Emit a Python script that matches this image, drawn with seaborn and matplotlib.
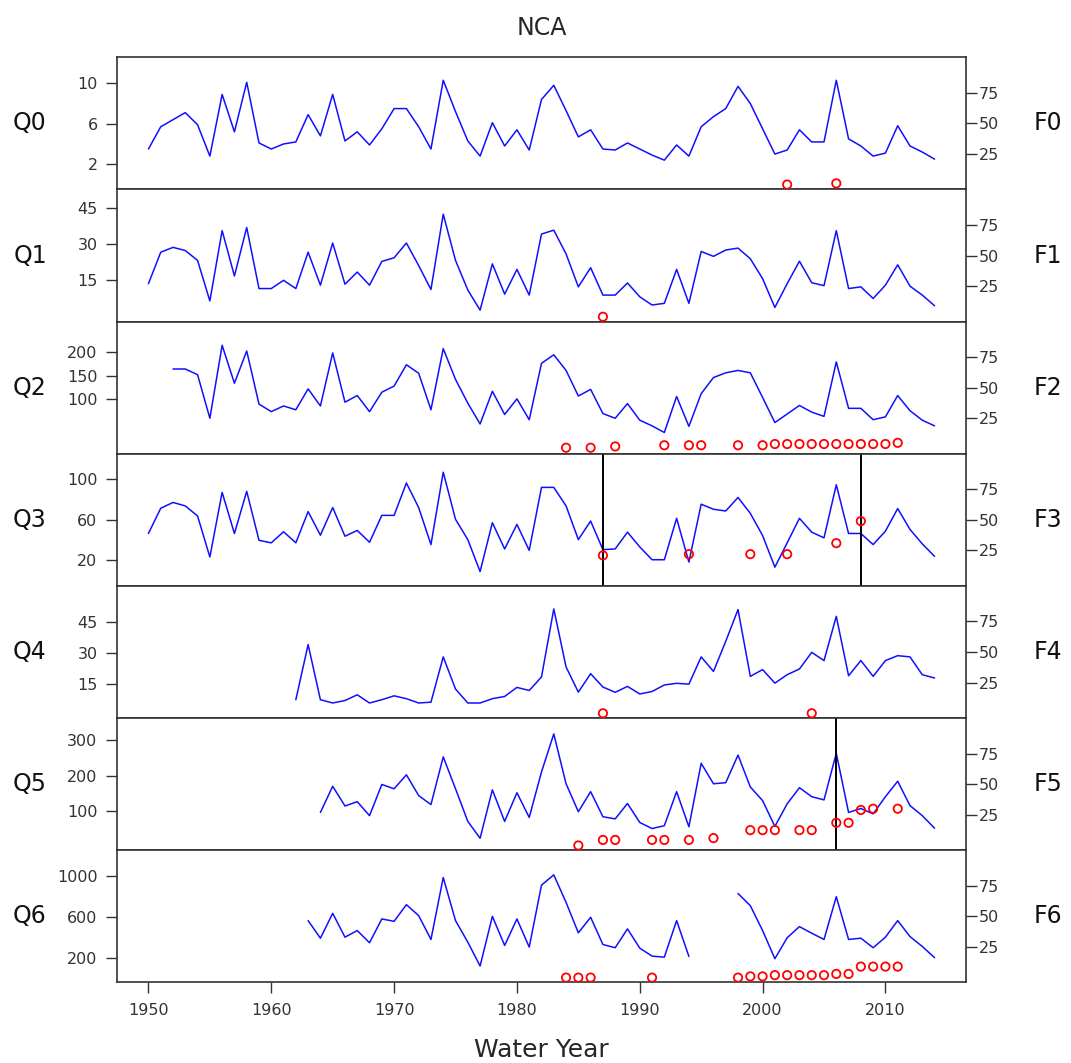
import numpy as np
import pandas as pd
import matplotlib
matplotlib.use("Agg")
import matplotlib.pyplot as plt
import seaborn as sns

# ---------------- data ----------------
q0 = [3.5, 5.7, 6.4, 7.1, 5.9, 2.8, 8.9, 5.2, 10.1, 4.1,
      3.5, 4.0, 4.2, 6.9, 4.8, 8.9, 4.3, 5.2, 3.9, 5.5,
      7.5, 7.5, 5.7, 3.5, 10.3, 7.2, 4.3, 2.8, 6.1, 3.8,
      5.4, 3.4, 8.4, 9.8, 7.3, 4.7, 5.4, 3.5, 3.4, 4.1,
      3.5, 2.9, 2.4, 3.9, 2.8, 5.7, 6.7, 7.5, 9.7, 8.0,
      5.5, 3.0, 3.4, 5.4, 4.2, 4.2, 10.3, 4.5, 3.8, 2.8,
      3.1, 5.8, 3.8, 3.2, 2.5]
q1 = [13.6, 26.6, 28.6, 27.3, 23.2, 6.5, 35.5, 16.8, 36.8, 11.6,
      11.6, 15.0, 11.6, 26.6, 13.0, 30.4, 13.4, 18.4, 13.0, 22.8,
      24.3, 30.4, 21.1, 11.2, 42.3, 23.2, 11.0, 2.7, 21.8, 9.3,
      19.5, 8.9, 34.1, 35.7, 25.9, 12.3, 20.2, 8.9, 8.9, 13.9,
      8.2, 4.8, 5.5, 19.5, 5.5, 26.9, 24.9, 27.5, 28.3, 23.9,
      15.7, 3.8, 13.6, 22.9, 14.0, 12.8, 35.5, 11.6, 12.3, 7.5,
      13.0, 21.4, 12.6, 8.9, 4.5]
q2_start = 1952
q2 = [164, 164, 152, 60, 214, 134, 202, 90,
      74, 86, 78, 122, 86, 198, 94, 108, 74, 115,
      128, 173, 155, 78, 207, 142, 92, 48, 117, 68,
      101, 57, 176, 194, 161, 107, 121, 70, 60, 91,
      56, 44, 30, 106, 43, 112, 146, 156, 161, 156,
      104, 51, 69, 87, 73, 64, 179, 81, 81, 57,
      63, 108, 76, 56, 44]
q3 = [46.5, 71.3, 77, 73.6, 63.7, 23.4, 86.9, 46.5, 87.9, 39.8,
      37.3, 48.2, 37.3, 68, 44.8, 72, 43.8, 49.5, 37.9, 64.3,
      64.3, 96.1, 72, 35.6, 106.7, 60.4, 40.5, 9.1, 57.1, 31.3,
      55.4, 29.9, 91.8, 91.8, 73.6, 40.5, 58.7, 30.6, 31.3, 47.8,
      33.3, 20.7, 20.7, 61.4, 18.4, 75.3, 70.3, 68.6, 81.9, 66.3,
      44.5, 13.4, 37.3, 61.4, 47.8, 42.2, 94.4, 46.5, 46.5, 35.6,
      48.8, 71, 50.5, 36.3, 24]
q4_start = 1962
q4 = [7.2, 34.1, 7.2, 5.6, 6.8, 9.6, 5.6, 7.2,
      9.1, 7.7, 5.6, 6.0, 28.1, 12.4, 5.6, 5.6, 7.7, 8.8,
      13.2, 11.7, 18.3, 51.5, 23.2, 10.9, 19.9, 13.4, 10.8, 13.7,
      10.0, 11.2, 14.4, 15.2, 14.8, 28.1, 21.0, 35.7, 51.2, 18.6,
      21.9, 15.3, 19.4, 22.2, 30.3, 26.3, 47.9, 18.9, 26.3, 18.6,
      26.3, 28.7, 28.1, 19.4, 17.8]
q5_start = 1964
q5 = [97, 170, 115, 127, 88, 175,
      163, 202, 144, 119, 252, 163, 72, 25, 160, 72,
      152, 83, 210, 316, 177, 99, 155, 85, 79, 122,
      69, 52, 60, 155, 57, 234, 177, 180, 257, 168,
      130, 58, 121, 166, 141, 132, 262, 97, 108, 93,
      141, 184, 116, 88, 53]
q6_start = 1963
q6 = [565, 395, 635, 405, 469, 351, 581,
      558, 719, 613, 383, 981, 565, 357, 126, 606, 325,
      581, 309, 908, 1007, 741, 447, 597, 334, 303, 485,
      299, 222, 212, 565, 219, np.nan, np.nan, np.nan, 827, 709,
      469, 197, 399, 507, 443, 383, 796, 383, 395, 303,
      405, 565, 411, 315, 207]

f0_years = [2002, 2006]
f0 = [0, 1]
f1_years = [1987]
f1 = [0]
f2_years = [1984, 1986, 1988, 1992, 1994, 1995, 1998, 2000, 2001, 2002, 2003,
            2004, 2005, 2006, 2007, 2008, 2009, 2010, 2011]
f2 = [1, 1, 2, 3, 3, 3, 3, 3, 4, 4, 4, 4, 4, 4, 4, 4, 4, 4, 5]
f3_years = [1987, 1994, 1999, 2002, 2006, 2008]
f3 = [21, 22, 22, 22, 31, 49]
f4_years = [1987, 2004]
f4 = [0, 0]
f5_years = [1985, 1987, 1988, 1991, 1992, 1994, 1996, 1999, 2000, 2001, 2003,
            2004, 2006, 2007, 2008, 2009, 2011]
f5 = [0, 4.5, 4.5, 4.5, 4.5, 4.5, 6, 12.5, 12.5, 12.5, 12.5, 12.5, 18.5, 18.5, 29, 30, 30]
f6_years = [1984, 1985, 1986, 1991, 1998, 1999, 2000, 2001, 2002, 2003, 2004,
            2005, 2006, 2007, 2008, 2009, 2010, 2011]
f6 = [0, 0, 0, 0, 0, 1, 1, 2, 2, 2, 2, 2, 3, 3, 9, 9, 9, 9]

break_years = {3: [1987, 2008], 5: [2006]}

q_labels = ["Q0", "Q1", "Q2", "Q3", "Q4", "Q5", "Q6"]
f_labels = ["F0", "F1", "F2", "F3", "F4", "F5", "F6"]
q_ticks = [[2, 6, 10], [15, 30, 45], [100, 150, 200], [20, 60, 100],
           [15, 30, 45], [100, 200, 300], [200, 600, 1000]]
f_ticks = [25, 50, 75]
x_ticks = [1950, 1960, 1970, 1980, 1990, 2000, 2010]

# ---------------- assemble ----------------
q_series = [
    (1950, q0), (1950, q1), (q2_start, q2), (1950, q3),
    (q4_start, q4), (q5_start, q5), (q6_start, q6),
]
f_series = [(f0_years, f0), (f1_years, f1), (f2_years, f2), (f3_years, f3),
            (f4_years, f4), (f5_years, f5), (f6_years, f6)]
q_ylims = [(-0.5, 12.57), (-2.06, 52.5), (-15, 264), (-5.1, 124.8),
           (-1.8, 62.7), (-8.7, 360), (-33, 1244)]

sns.set_style("white")
plt.rcParams["font.family"] = ["DejaVu Sans"]

W, H = 1071, 1063
fig, axes = plt.subplots(7, 1, figsize=(W / 100, H / 100), dpi=100, sharex=True)
fig.subplots_adjust(left=117 / W, right=966 / W, top=1 - 57.3 / H,
                    bottom=1 - 982.5 / H, hspace=0)

spine_c = "#333333"
tick_c = "#333333"

for i, ax in enumerate(axes):
    start, vals = q_series[i]
    df = pd.DataFrame({"year": list(range(start, start + len(vals))), "Q": vals})
    df["seg"] = df["Q"].isna().cumsum()
    for _, seg in df.dropna().groupby("seg"):
        sns.lineplot(data=seg, x="year", y="Q", ax=ax, color="#1010ff",
                     linewidth=1.1, estimator=None, sort=False)
    ax.set_ylim(*q_ylims[i])
    ax.set_yticks(q_ticks[i])
    ax.set_xlabel("")
    ax.set_ylabel("")
    for sp in ax.spines.values():
        sp.set_color(spine_c)
        sp.set_linewidth(1.2)
    ax.tick_params(axis="y", direction="out", length=8, width=1.0,
                   color=spine_c, labelsize=11.5, labelcolor=tick_c, pad=6, left=True)
    ax.tick_params(axis="x", bottom=False)

    for bx in break_years.get(i, []):
        ax.axvline(bx, color="black", linewidth=1.4)

    ax2 = ax.twinx()
    fy, fv = f_series[i]
    fdf = pd.DataFrame({"year": fy, "F": fv})
    sns.scatterplot(data=fdf, x="year", y="F", ax=ax2, marker="o", s=36,
                    facecolors="none", edgecolor="red", linewidth=1.3)
    ax2.set_ylim(-4, 104)
    ax2.set_yticks(f_ticks)
    ax2.set_ylabel("")
    ax2.set_xlabel("")
    for sp in ax2.spines.values():
        sp.set_visible(False)
    ax2.tick_params(axis="y", direction="out", length=8, width=1.0,
                    color=spine_c, labelsize=11.5, labelcolor=tick_c, pad=1, right=True)

    ax.text(-0.1025, 0.5, q_labels[i], transform=ax.transAxes, ha="center",
            va="center", fontsize=17, color="#111111")
    ax.text(1.0966, 0.5, f_labels[i], transform=ax.transAxes, ha="center",
            va="center", fontsize=17, color="#111111")

bottom = axes[-1]
bottom.set_xlim(1947.44, 2016.56)
bottom.set_xticks(x_ticks)
bottom.tick_params(axis="x", bottom=True, direction="out", length=8, width=1.0,
                   color=spine_c, labelsize=11.5, labelcolor=tick_c, pad=7)
for ax in axes[:-1]:
    ax.tick_params(axis="x", labelbottom=False)

fig.text(541.5 / W, 1 - 28 / H, "NCA", ha="center", va="center", fontsize=17)
fig.text(541.5 / W, 1 - 1050 / H, "Water Year", ha="center", va="center", fontsize=18)

fig.savefig("out.png", dpi=100)
